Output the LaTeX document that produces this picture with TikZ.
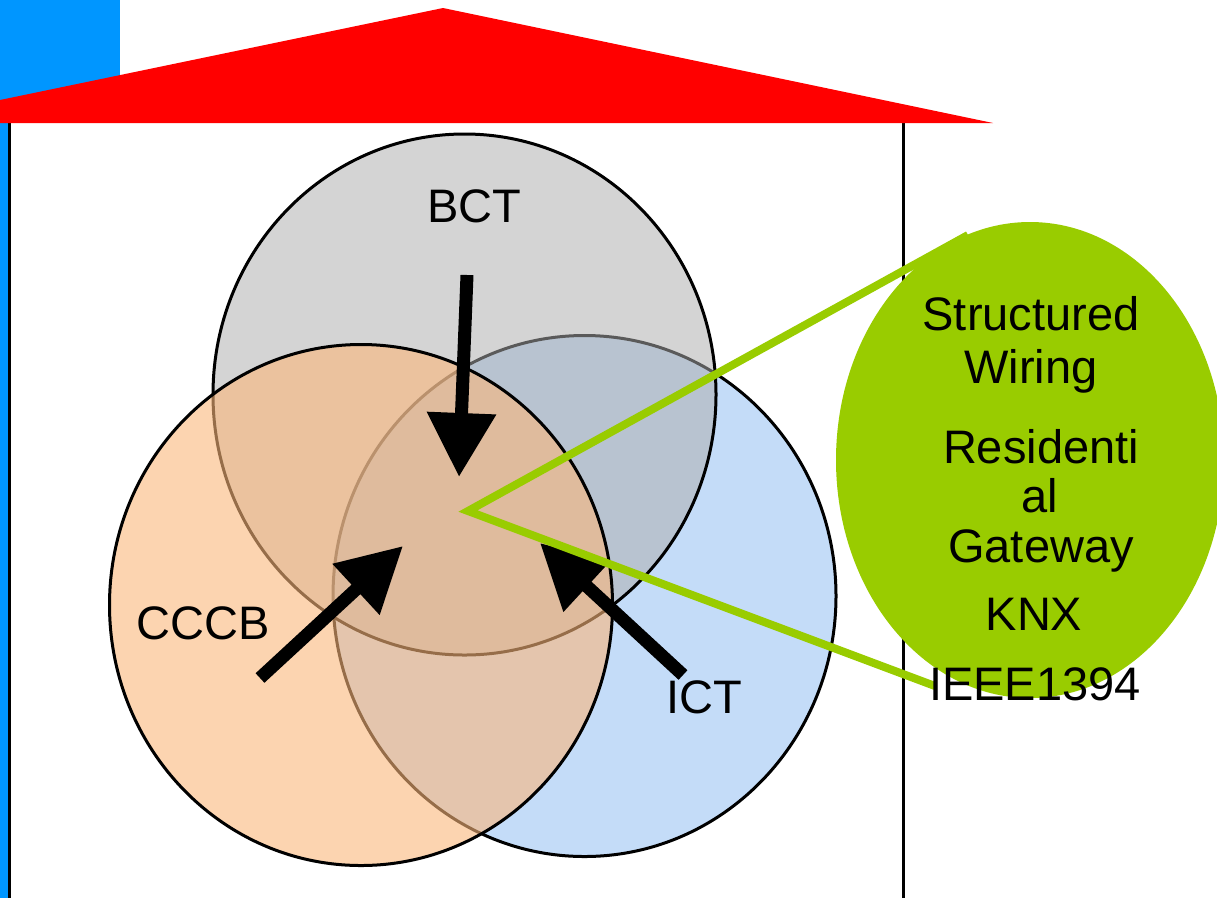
\documentclass[tikz,border=0pt]{standalone}
\usepackage{fontspec}
\setmainfont{Liberation Sans}
\usetikzlibrary{shapes.geometric,arrows.meta}
\definecolor{roofred}{RGB}{255,0,0}
\definecolor{wallblue}{RGB}{0,150,255}
\definecolor{bctgray}{RGB}{173,173,173}
\definecolor{cccborange}{RGB}{250,183,123}
\definecolor{ictblue}{RGB}{196,220,248}
\definecolor{calloutgreen}{RGB}{153,204,0}
\begin{document}
\begin{tikzpicture}[x=1pt,y=-1pt,
  setbox/.style={ellipse, draw=black, line width=3pt, minimum width=503pt,
                 minimum height=521pt, inner sep=0pt, outer sep=0pt},
  txt/.style={font=\fontsize{47}{50}\selectfont, anchor=base, inner sep=0pt},
  bigarrow/.style={line width=13pt, -{Triangle[width=66pt,length=64pt]}},
  wedge/.style={draw=calloutgreen, line width=8pt},
  wall/.style={line width=3pt, draw=black}]
\useasboundingbox (0,0) rectangle (1217,898);

% house: blue wall edge, black walls, red roof
\fill[wallblue] (0,0) rectangle (120,105);
\fill[wallblue] (0,0) rectangle (8,898);
\draw[wall] (9.5,123) -- (9.5,898);
\draw[wall] (903.5,123) -- (903.5,898);
\fill[roofred] (0,100) -- (443,8) -- (993,123) -- (0,123) -- cycle;

% three overlapping technology domains
\node[setbox, fill=ictblue] (ict) at (584.5,596) {};
\node[setbox, fill=bctgray, fill opacity=0.52] (bct) at (464.5,394.5) {};
\node[setbox, fill=cccborange, fill opacity=0.6] (cccb) at (361,605) {};

\node[txt] (bctlbl) at (474,222) {BCT};
\node[txt] (cccblbl) at (203,639) {CCCB};
\node[txt] (ictlbl) at (704,713) {ICT};

% arrows pointing into the common core
\coordinate (bcttail) at (467,275);
\coordinate (bcttip) at (459,477);
\coordinate (cccbtail) at (260,678);
\coordinate (cccbtip) at (403,546);
\coordinate (icttail) at (683,675);
\coordinate (icttip) at (540,543);
\draw[bigarrow] (bcttail) -- (bcttip);
\draw[bigarrow] (cccbtail) -- (cccbtip);
\draw[bigarrow] (icttail) -- (icttip);

% callout bubble
\coordinate (core) at (468,511);
\coordinate (wedgetop) at (968,235);
\coordinate (wedgebot) at (935,686);
\draw[wedge] (wedgetop) -- (core) -- (wedgebot);
\node[ellipse, fill=calloutgreen, minimum width=388pt, minimum height=476pt,
      inner sep=0pt] (bubble) at (1030,460) {};

\node[txt] (l1) at (1031,330) {Structured};
\node[txt] (l2) at (1031,383) {Wiring};
\node[txt] (l3) at (1041,463) {Residenti};
\node[txt] (l4) at (1040,512) {al};
\node[txt] (l5) at (1041,562) {Gateway};
\node[txt] (l6) at (1034,630) {KNX};
\node[txt] (l7) at (1035,700) {IEEE1394};
\end{tikzpicture}
\end{document}
